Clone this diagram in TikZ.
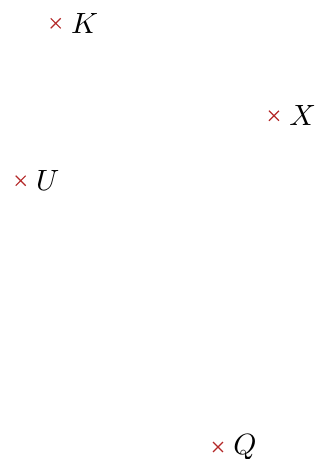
\documentclass[tikz,border=0pt]{standalone}
\usepackage{tikz}
\usetikzlibrary{shapes.misc}
\definecolor{ptRed}{HTML}{B42828}

\begin{document}
\begin{tikzpicture}[
    pt/.style={cross out, draw=ptRed, line width=0.4pt,
               minimum size=3pt, inner sep=0pt}]
        % fijar el marco
        \useasboundingbox (0,0) rectangle (3.837,5.504);
        % puntos
        \node[pt, label=right:$K$] (k) at (0.668,5.224) {};
        \node[pt, label=right:$X$] (x) at (3.285,4.116) {};
        \node[pt, label=right:$U$] (u) at (0.248,3.337) {};
        \node[pt, label=right:$Q$] (q) at (2.614,0.144) {};
      \end{tikzpicture}
\end{document}
